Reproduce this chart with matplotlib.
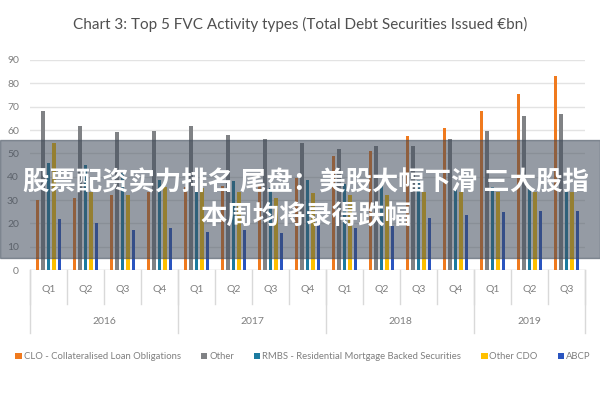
import numpy as np
import matplotlib.pyplot as plt
from matplotlib.patches import Rectangle

quarters = ['Q1', 'Q2', 'Q3', 'Q4', 'Q1', 'Q2', 'Q3', 'Q4',
            'Q1', 'Q2', 'Q3', 'Q4', 'Q1', 'Q2', 'Q3']
years = ['2016', '2017', '2018', '2019']
year_counts = [4, 4, 4, 3]

clo = [30, 31, 32, 33.5, 35.5, 36, 36, 39.5, 49, 51, 57.5, 61, 68, 75.5, 83]
other = [68, 61.5, 59, 59.5, 61.5, 58, 56, 54.5, 52, 53, 53, 56, 59.5, 66, 67]
rmbs = [46, 45, 41.5, 38.5, 36.5, 38, 35, 38.5, 37, 37, 38.5, 35, 35.5, 35, 34]
other_cdo = [54.5, 33.5, 32, 35.5, 35, 33.5, 31, 33, 32, 32, 33.5, 33.5, 33.5, 33.5, 33.5]
abcp = [22, 20, 17, 18, 16.5, 17, 16, 20, 18, 19, 22.5, 23.5, 25, 25.5, 25.5]

series = [
    ('CLO - Collateralised Loan Obligations', clo, '#F07A1E'),
    ('Other', other, '#808285'),
    ('RMBS - Residential Mortgage Backed Securities', rmbs, '#1C7BA0'),
    ('Other CDO', other_cdo, '#FFC000'),
    ('ABCP', abcp, '#2A55C0'),
]

plt.rcParams['font.family'] = ['Lato', 'DejaVu Sans']

fig = plt.figure(figsize=(6, 4), dpi=100)
ax = fig.add_axes([0.05, 0.325, 0.925, 0.525])

x = np.arange(len(quarters))
step = 0.15
for i, (name, vals, col) in enumerate(series):
    ax.bar(x + (i - 2) * step, vals, width=0.1, color=col, label=name, zorder=3)

ax.set_xlim(-0.5, len(quarters) - 0.5)
ax.set_ylim(0, 90)
ax.set_yticks(range(0, 91, 10))
ax.tick_params(axis='y', length=0, labelsize=7.5, labelcolor='#7f7f7f', pad=8)
ax.set_xticks([])
ax.grid(axis='y', color='#e3e3e3', lw=1, zorder=0)
for s in ax.spines.values():
    s.set_visible(False)
ax.axhline(0, color='#e3e3e3', lw=1, zorder=1)

tr = ax.get_xaxis_transform()
for i, q in enumerate(quarters):
    ax.text(i, -0.095, q, transform=tr, ha='center', va='center', fontsize=7.5, color='#7f7f7f')
for b in np.arange(len(quarters) + 1) - 0.5:
    ax.plot([b, b], [0, -0.16], transform=tr, color='#d9d9d9', lw=1, clip_on=False)
start = 0
for y, n in zip(years, year_counts):
    ax.plot([start - 0.5, start - 0.5], [0, -0.3], transform=tr, color='#d9d9d9', lw=1, clip_on=False)
    ax.text(start + n / 2 - 0.5, -0.245, y, transform=tr, ha='center', va='center', fontsize=7.5, color='#7f7f7f')
    start += n
ax.plot([start - 0.5, start - 0.5], [0, -0.3], transform=tr, color='#d9d9d9', lw=1, clip_on=False)

fig.text(0.5, 0.94, 'Chart 3: Top 5 FVC Activity types (Total Debt Securities Issued \u20acbn)',
         ha='center', va='center', fontsize=11, color='#505050')

fig.legend(loc='center', bbox_to_anchor=(0.505, 0.108), ncol=5, frameon=False, fontsize=6.8,
           handlelength=0.7, handleheight=0.7, handletextpad=0.2, columnspacing=2.1,
           labelcolor='#7f7f7f')

# overlay banner
fig.patches.append(Rectangle((0, 1 - 258 / 400), 1, 118 / 400, transform=fig.transFigure,
                             color='#3f4a5a', alpha=0.55, zorder=10))
fig.text(0.51, 1 - 200 / 400, '股票配资实力排名 尾盘：美股大幅下滑 三大股指\n本周均将录得跌幅',
         ha='center', va='center', fontsize=19, fontweight='bold', color='white',
         family=['Noto Sans CJK SC', 'DejaVu Sans'], linespacing=1.35, zorder=11)

fig.savefig('out.png', dpi=100)
